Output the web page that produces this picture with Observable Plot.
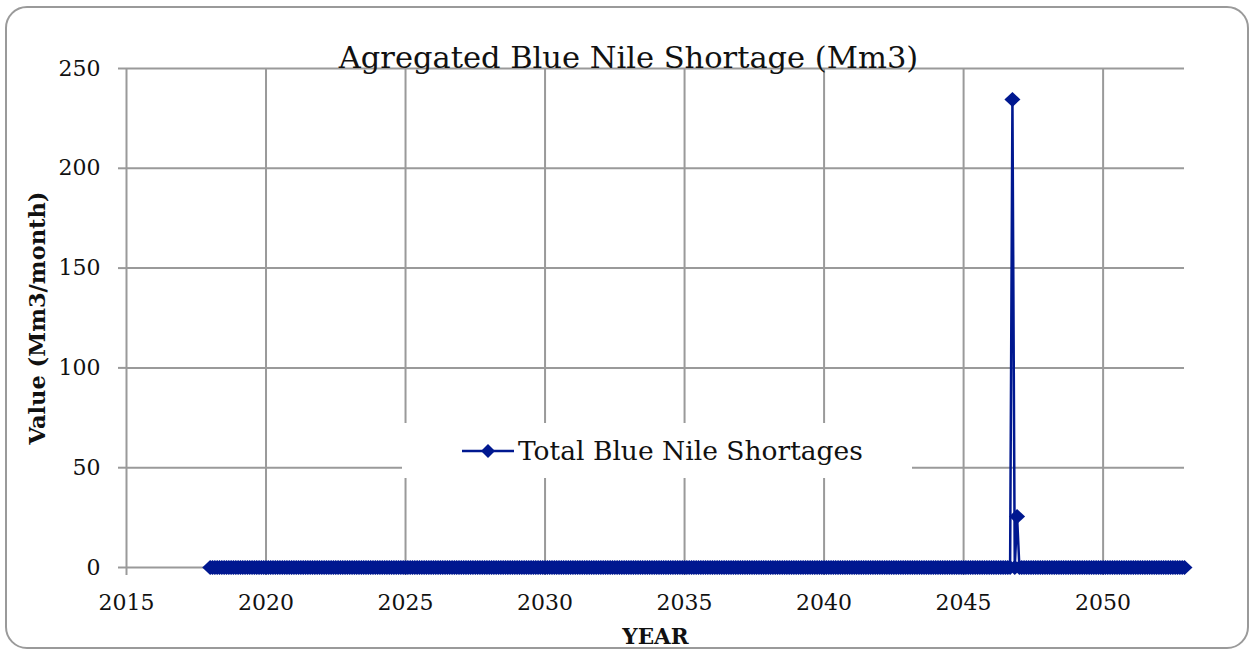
<!DOCTYPE html>
<html>
<head>
<meta charset="utf-8">
<script src="https://cdn.jsdelivr.net/npm/d3@7"></script>
<script src="https://cdn.jsdelivr.net/npm/@observablehq/plot@0.6"></script>
<style>
  html, body { margin: 0; padding: 0; background: #fff; }
  #wrap { position: relative; width: 1257px; height: 653px; overflow: hidden; }
  #frame { position: absolute; left: 5px; top: 6px; width: 1244px; height: 643px;
           border: 2px solid #9a9a9a; border-radius: 22px; box-sizing: border-box; }
  #chart { position: absolute; left: 0; top: 0; }
  #legend { position: absolute; left: 402px; top: 423px; width: 510px; height: 55px;
            background: #fff; display: flex; align-items: center; }
  #legend span { font-family: "DejaVu Serif", serif; font-size: 26.5px; color: #111; margin-left: 2px; }
</style>
</head>
<body>
<div id="wrap">
  <div id="chart"></div>
  <div id="legend"></div>
  <div id="frame"></div>
</div>
<script>
// ---- data ----
const chartTitle = "Agregated Blue Nile Shortage (Mm3)";
const seriesName = "Total Blue Nile Shortages";
const yLabel = "Value (Mm3/month)";
const xLabel = "YEAR";
const years = d3.range(2018, 2053); // 2018 .. 2052, 12 months each
// monthly shortage values (Mm3/month), one row per year, Jan..Dec
const shortageByYear = [
  [0,0,0,0,0,0,0,0,0,0,0,0], // 2018
  [0,0,0,0,0,0,0,0,0,0,0,0], // 2019
  [0,0,0,0,0,0,0,0,0,0,0,0], // 2020
  [0,0,0,0,0,0,0,0,0,0,0,0], // 2021
  [0,0,0,0,0,0,0,0,0,0,0,0], // 2022
  [0,0,0,0,0,0,0,0,0,0,0,0], // 2023
  [0,0,0,0,0,0,0,0,0,0,0,0], // 2024
  [0,0,0,0,0,0,0,0,0,0,0,0], // 2025
  [0,0,0,0,0,0,0,0,0,0,0,0], // 2026
  [0,0,0,0,0,0,0,0,0,0,0,0], // 2027
  [0,0,0,0,0,0,0,0,0,0,0,0], // 2028
  [0,0,0,0,0,0,0,0,0,0,0,0], // 2029
  [0,0,0,0,0,0,0,0,0,0,0,0], // 2030
  [0,0,0,0,0,0,0,0,0,0,0,0], // 2031
  [0,0,0,0,0,0,0,0,0,0,0,0], // 2032
  [0,0,0,0,0,0,0,0,0,0,0,0], // 2033
  [0,0,0,0,0,0,0,0,0,0,0,0], // 2034
  [0,0,0,0,0,0,0,0,0,0,0,0], // 2035
  [0,0,0,0,0,0,0,0,0,0,0,0], // 2036
  [0,0,0,0,0,0,0,0,0,0,0,0], // 2037
  [0,0,0,0,0,0,0,0,0,0,0,0], // 2038
  [0,0,0,0,0,0,0,0,0,0,0,0], // 2039
  [0,0,0,0,0,0,0,0,0,0,0,0], // 2040
  [0,0,0,0,0,0,0,0,0,0,0,0], // 2041
  [0,0,0,0,0,0,0,0,0,0,0,0], // 2042
  [0,0,0,0,0,0,0,0,0,0,0,0], // 2043
  [0,0,0,0,0,0,0,0,0,0,0,0], // 2044
  [0,0,0,0,0,0,0,0,0,0,0,0], // 2045
  [0,0,0,0,0,0,0,0,0,234.5,0,25.5], // 2046
  [0,0,0,0,0,0,0,0,0,0,0,0], // 2047
  [0,0,0,0,0,0,0,0,0,0,0,0], // 2048
  [0,0,0,0,0,0,0,0,0,0,0,0], // 2049
  [0,0,0,0,0,0,0,0,0,0,0,0], // 2050
  [0,0,0,0,0,0,0,0,0,0,0,0], // 2051
  [0,0,0,0,0,0,0,0,0,0,0,0]  // 2052
];
const xTicks = [2015, 2020, 2025, 2030, 2035, 2040, 2045, 2050];
const yTicks = [0, 50, 100, 150, 200, 250];

// ---- table ----
const data = [];
years.forEach((yr, i) => shortageByYear[i].forEach((v, m) => data.push({t: yr + m / 12, v})));

const lineColor = "#001890";
const gridColor = "#9a9a9a";
const serif = "DejaVu Serif, serif";

const diamond = {
  draw(ctx, size) {
    const w = 8, h = 7.5;
    ctx.moveTo(0, -h); ctx.lineTo(w, 0); ctx.lineTo(0, h); ctx.lineTo(-w, 0); ctx.closePath();
  }
};

const plot = Plot.plot({
  width: 1257,
  height: 653,
  marginLeft: 126,
  marginRight: 73,
  marginTop: 68,
  marginBottom: 86,
  style: {fontFamily: serif, background: "transparent", color: "#111", overflow: "visible"},
  x: {domain: [2015, 2052 + 11 / 12]},
  y: {domain: [0, 250]},
  marks: [
    Plot.gridX(xTicks, {stroke: gridColor, strokeOpacity: 1, strokeWidth: 2}),
    Plot.gridY(yTicks, {stroke: gridColor, strokeOpacity: 1, strokeWidth: 2}),
    Plot.axisY(yTicks, {tickSize: 8, tickPadding: 18, stroke: gridColor, strokeWidth: 2, fill: "#111",
      fontSize: 22, label: null, tickFormat: d => String(d)}),
    Plot.axisX(xTicks, {tickSize: 8, tickPadding: 19, stroke: gridColor, strokeWidth: 2, fill: "#111",
      fontSize: 22, label: null, tickFormat: d => String(d)}),
    Plot.line(data, {x: "t", y: "v", stroke: lineColor, strokeWidth: 2.5}),
    Plot.dot(data, {x: "t", y: "v", symbol: diamond, fill: lineColor, stroke: "none"}),
    Plot.text([chartTitle], {frameAnchor: "top", dx: -27, dy: -10, fontSize: 30.5, fill: "#111",
      textAnchor: "middle", lineAnchor: "middle"}),
    Plot.text([yLabel], {frameAnchor: "left", dx: -89, rotate: -90, fontSize: 22.5, fontWeight: "bold", fill: "#111",
      textAnchor: "middle", lineAnchor: "middle"}),
    Plot.text([xLabel], {frameAnchor: "bottom", dy: 70, fontSize: 21.5, fontWeight: "bold", fill: "#111",
      textAnchor: "middle", lineAnchor: "middle"})
  ]
});
document.getElementById("chart").appendChild(plot);

// legend (drawn inside the plot area, white box)
const leg = document.getElementById("legend");
leg.innerHTML = `<svg width="56" height="16" style="margin-left:58px"><line x1="2" y1="8" x2="54" y2="8" stroke="${lineColor}" stroke-width="2.5"/><path d="M28,1L35,8L28,15L21,8Z" fill="${lineColor}"/></svg><span>${seriesName}</span>`;
</script>
</body>
</html>
